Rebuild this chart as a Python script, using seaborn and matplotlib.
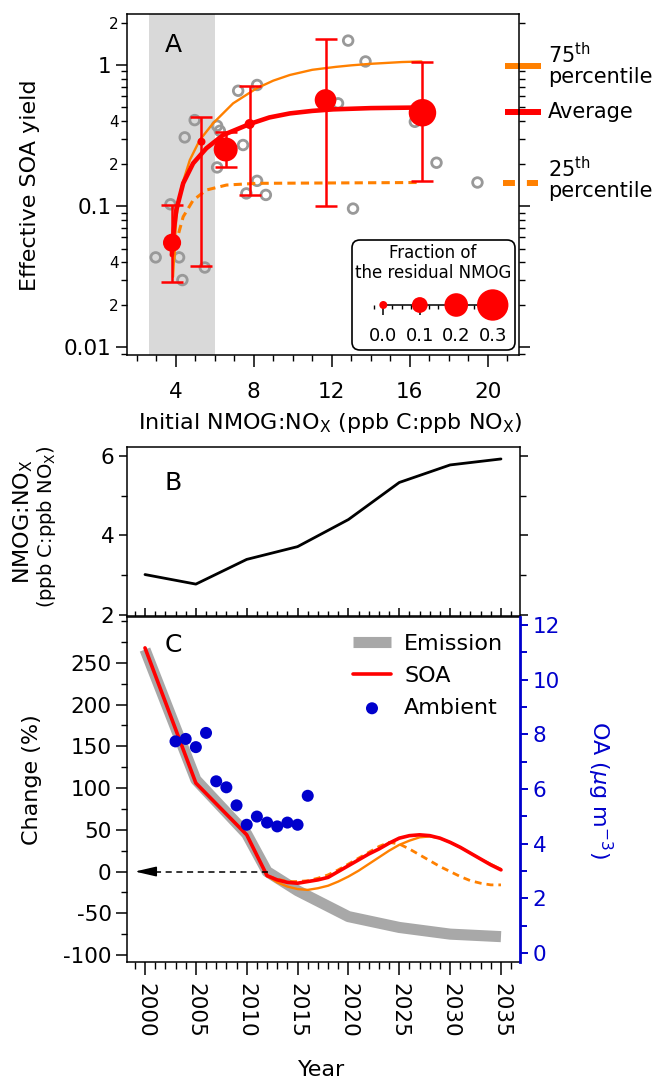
import matplotlib
matplotlib.use("Agg")
import numpy as np
import matplotlib.pyplot as plt
import seaborn as sns
from matplotlib.ticker import MultipleLocator, LogLocator, FuncFormatter, FixedLocator
from matplotlib.patches import FancyBboxPatch

# ---------------- Data ----------------
# Panel A: individual experiments (open grey circles)
exp_ratio = [7.20, 8.17, 12.84, 13.73, 4.97, 6.12, 6.26, 4.46, 7.45, 6.12, 8.17, 7.62,
             8.62, 3.73, 13.09, 17.37, 19.47, 12.32, 16.26, 2.97, 4.17, 4.34, 5.49]
exp_yield = [0.657, 0.722, 1.49, 1.06, 0.407, 0.371, 0.342, 0.307, 0.271, 0.188, 0.151, 0.123,
             0.120, 0.103, 0.096, 0.203, 0.147, 0.535, 0.396, 0.0433, 0.0433, 0.0299, 0.0367]

# Panel A: binned averages with 25th-75th ranges and residual NMOG fraction
avg_ratio = [3.81, 5.32, 6.56, 7.79, 11.68, 16.65]
avg_yield = [0.055, 0.286, 0.252, 0.382, 0.565, 0.459]
avg_low = [0.029, 0.0377, 0.190, 0.120, 0.100, 0.151]
avg_high = [0.102, 0.425, 0.336, 0.710, 1.53, 1.055]
avg_frac = [0.13, 0.0, 0.205, 0.026, 0.175, 0.25]

# Panel A: fitted curves
fit75_ratio = [3.86, 4.03, 4.29, 4.72, 5.23, 5.91, 6.94, 8.14, 9.0, 9.85, 11.0, 12.2, 13.0, 14.0, 15.6, 16.6]
fit75_yield = [0.0315, 0.084, 0.137, 0.212, 0.294, 0.386, 0.535, 0.683, 0.775, 0.85, 0.925, 0.97,
               0.995, 1.02, 1.05, 1.06]
fitavg_ratio = [3.80, 3.90, 4.03, 4.38, 4.89, 5.57, 6.43, 7.79, 8.8, 9.85, 11.0, 12.07, 14.0, 16.6]
fitavg_yield = [0.045, 0.068, 0.094, 0.145, 0.201, 0.257, 0.319, 0.382, 0.425, 0.454, 0.473,
                0.485, 0.495, 0.50]
fit25_ratio = [3.90, 3.95, 4.38, 4.89, 5.57, 6.60, 8.14, 16.6]
fit25_yield = [0.042, 0.051, 0.084, 0.110, 0.130, 0.141, 0.145, 0.147]

# Panel A: gray shaded range of ambient ratios
shade_range = [2.63, 6.02]
# size legend
legend_frac = [0.0, 0.1, 0.2, 0.3]
legend_frac_labels = ["0.0", "0.1", "0.2", "0.3"]

# Panel B
years_b = [2000, 2005, 2010, 2015, 2020, 2025, 2030, 2035]
ratio_b = [3.02, 2.78, 3.40, 3.72, 4.40, 5.33, 5.77, 5.92]

# Panel C
years_emis = [2000, 2005, 2010, 2012, 2015, 2020, 2025, 2030, 2035]
emission = [266, 110, 45, 0, -23, -54, -67, -75, -78]
years_soa = [2000, 2005, 2010, 2012, 2013, 2014, 2015, 2016, 2017, 2018, 2019, 2020, 2021,
             2022, 2023, 2024, 2025, 2026, 2027, 2028, 2029, 2030, 2031, 2032, 2033, 2034, 2035]
soa = [268, 106, 44, -5, -10, -13, -14, -12, -10, -7, 0, 7, 14,
       21, 27, 34, 40, 43, 44, 43, 40, 35, 29, 22, 15, 8, 2]
years_proj = [2012, 2013, 2014, 2015, 2016, 2017, 2018, 2019, 2020, 2021, 2022, 2023,
              2024, 2025, 2026, 2027, 2028, 2029, 2030, 2031, 2032, 2033, 2034, 2035]
soa_p75 = [-5, -13, -18, -21, -22, -20, -17, -12, -6, 1, 9, 17,
           25, 32, 37, 41, 42, 40, 35, 29, 22, 15, 9, 3]
soa_p25 = [-5, -9, -12, -12, -11, -8, -4, 2, 9, 16, 23, 30,
           35, 33, 27, 20, 13, 6, 0, -6, -11, -14, -16, -16]
amb_years = [2003, 2004, 2005, 2006, 2007, 2008, 2009, 2010, 2011, 2012, 2013, 2014, 2015, 2016]
amb_oa = [7.74, 7.83, 7.53, 8.05, 6.28, 6.06, 5.40, 4.69, 4.99, 4.77, 4.63, 4.77, 4.69, 5.75]
arrow_from_year = 2012.1
change_ticks = [-100, -50, 0, 50, 100, 150, 200, 250]

# ---------------- Style ----------------
sns.set_style("ticks")
plt.rcParams["font.family"] = ["DejaVu Sans"]
plt.rcParams["mathtext.fontset"] = "dejavusans"
plt.rcParams["axes.unicode_minus"] = False
plt.rcParams["axes.linewidth"] = 1.1
plt.rcParams["text.color"] = "black"
plt.rcParams["axes.labelcolor"] = "black"
plt.rcParams["axes.edgecolor"] = "black"
for a in ("xtick", "ytick"):
    plt.rcParams[a + ".major.width"] = 1.1
    plt.rcParams[a + ".minor.width"] = 1.0
    plt.rcParams[a + ".color"] = "black"
    plt.rcParams[a + ".labelcolor"] = "black"

RED = "#ff0000"
ORANGE = "#ff8000"
GREYC = "#999999"
BLUE = "#0000cc"
EMIS = "#a8a8a8"
TICK = 15.5
LAB = 16

W, H = 662, 1081
fig = plt.figure(figsize=(W / 100, H / 100), dpi=100)


def box(l, t, r, b):
    return [l / W, 1 - b / H, (r - l) / W, (b - t) / H]


def fx(x):
    return x / W


def fy(y):
    return 1 - y / H


def frac_to_s(f):
    r_px = 4 + 39 * np.asarray(f)
    return (2 * r_px * 0.72) ** 2


# ---------------- Panel A ----------------
axA = fig.add_axes(box(127, 14, 519, 355))
axA.set_yscale("log")
axA.axvspan(shade_range[0], shade_range[1], color="#d9d9d9", lw=0, zorder=0)
sns.scatterplot(x=exp_ratio, y=exp_yield, ax=axA, s=48, facecolor="none",
                edgecolor=GREYC, linewidth=2.0, zorder=2, legend=False)
sns.lineplot(x=fit25_ratio, y=fit25_yield, ax=axA, color=ORANGE, lw=2.2,
             linestyle=(0, (2.7, 1.7)), estimator=None, sort=False, zorder=3)
sns.lineplot(x=fit75_ratio, y=fit75_yield, ax=axA, color=ORANGE, lw=1.7,
             estimator=None, sort=False, zorder=3)
sns.lineplot(x=fitavg_ratio, y=fitavg_yield, ax=axA, color=RED, lw=3.3,
             estimator=None, sort=False, zorder=3)
yv = np.array(avg_yield)
yerr = [yv - np.array(avg_low), np.array(avg_high) - yv]
axA.errorbar(avg_ratio, avg_yield, yerr=yerr, fmt="none", ecolor=RED,
             elinewidth=1.8, capsize=8, capthick=1.8, zorder=4)
axA.scatter(avg_ratio, avg_yield, s=frac_to_s(avg_frac), color=RED, lw=0, zorder=5)

axA.set_xlim(1.5, 21.6)
axA.set_ylim(0.0088, 2.3)
axA.xaxis.set_major_locator(MultipleLocator(4))
axA.xaxis.set_minor_locator(MultipleLocator(1))
axA.yaxis.set_major_locator(FixedLocator([0.01, 0.1, 1]))
axA.yaxis.set_major_formatter(FuncFormatter(lambda v, p: {0.01: "0.01", 0.1: "0.1", 1: "1"}.get(round(v, 3), "")))
axA.yaxis.set_minor_locator(LogLocator(base=10, subs=np.arange(2, 10)))


def minor_fmt(v, pos):
    m = v / 10 ** np.floor(np.log10(v) + 1e-9)
    mi = int(round(m))
    return str(mi) if mi in (2, 4) else ""


axA.yaxis.set_minor_formatter(FuncFormatter(minor_fmt))
axA.tick_params(axis="x", which="major", direction="out", length=8.6, labelsize=TICK, pad=11, top=False)
axA.tick_params(axis="x", which="minor", direction="out", length=4.3, top=False)
axA.tick_params(axis="y", which="major", direction="out", length=8, labelsize=TICK, pad=3, right=True)
axA.tick_params(axis="y", which="minor", direction="out", length=4, labelsize=11, pad=2, right=True)
axA.set_xlabel("")
axA.set_ylabel("")
axA.text(0.117, 0.909, "A", transform=axA.transAxes, fontsize=18, ha="center", va="center")

# legend marks outside right edge
axA.plot([20.87, 22.75], [0.984, 0.984], color=ORANGE, lw=4.3, clip_on=False, solid_capstyle="butt")
axA.plot([20.87, 22.75], [0.466, 0.466], color=RED, lw=4.3, clip_on=False, solid_capstyle="butt")
axA.plot([20.78, 22.58], [0.146, 0.146], color=ORANGE, lw=4.3, clip_on=False,
         linestyle=(0, (2, 2)), dash_capstyle="butt")
fig.text(fx(548), fy(63), "75$^{\\mathrm{th}}$", fontsize=15, va="baseline", ha="left")
fig.text(fx(548), fy(83), "percentile", fontsize=15, va="baseline", ha="left")
fig.text(fx(548), fy(118), "Average", fontsize=15, va="baseline", ha="left")
fig.text(fx(548), fy(177), "25$^{\\mathrm{th}}$", fontsize=15, va="baseline", ha="left")
fig.text(fx(548), fy(197), "percentile", fontsize=15, va="baseline", ha="left")

fig.text(fx(30), fy(185), "Effective SOA yield", rotation=90, fontsize=LAB, ha="center", va="center")
fig.text(fx(330), fy(423), "Initial NMOG:NO$_\\mathrm{X}$ (ppb C:ppb NO$_\\mathrm{X}$)",
         fontsize=LAB, ha="center", va="center")

# size legend box
bx = FancyBboxPatch((fx(352), fy(350)), (515 - 352) / W, 110 / H,
                    boxstyle="round,pad=0,rounding_size=0.012", mutation_aspect=W / H,
                    transform=fig.transFigure, facecolor="white", edgecolor="black", lw=1.2, zorder=1)
fig.add_artist(bx)
fig.text(fx(433), fy(263), "Fraction of\nthe residual NMOG", fontsize=12, ha="center",
         va="center", linespacing=1.2, zorder=3)
insA = fig.add_axes(box(370, 290, 510, 320))
insA.set_zorder(2)
insA.patch.set_visible(False)
insA.scatter(legend_frac, np.zeros(len(legend_frac)), s=frac_to_s(legend_frac), color=RED,
             lw=0, zorder=3, clip_on=False)
insA.set_xlim(-0.0365, 0.3474)
insA.set_ylim(-1, 1)
for s in ("left", "right", "top"):
    insA.spines[s].set_visible(False)
insA.spines["bottom"].set_position(("data", 0))
insA.spines["bottom"].set_bounds(0, 0.3)
insA.xaxis.set_major_locator(FixedLocator(legend_frac))
insA.set_xticklabels(legend_frac_labels)
insA.xaxis.set_minor_locator(MultipleLocator(0.025))
insA.tick_params(axis="x", which="major", length=7, labelsize=13, pad=9, direction="out")
insA.tick_params(axis="x", which="minor", length=3, direction="out")
insA.set_yticks([])

# ---------------- Panel B ----------------
XL = (1998.23, 2036.87)
axB = fig.add_axes(box(127, 447, 520, 616))
sns.lineplot(x=years_b, y=ratio_b, ax=axB, color="black", lw=2.0, estimator=None, sort=False)
axB.set_xlim(*XL)
axB.set_ylim(1.98, 6.22)
axB.xaxis.set_major_locator(MultipleLocator(5))
axB.xaxis.set_minor_locator(MultipleLocator(1))
axB.yaxis.set_major_locator(FixedLocator([2, 4, 6]))
axB.yaxis.set_minor_locator(FixedLocator([3, 5]))
axB.tick_params(axis="x", which="major", direction="in", length=6, labelbottom=False, top=False)
axB.tick_params(axis="x", which="minor", direction="in", length=3.5, top=False)
axB.tick_params(axis="y", which="major", direction="out", length=6, labelsize=TICK, pad=3, right=True)
axB.tick_params(axis="y", which="minor", direction="out", length=4, right=True)
axB.set_xlabel("")
axB.set_ylabel("")
axB.text(0.117, 0.787, "B", transform=axB.transAxes, fontsize=18, ha="center", va="center")
fig.text(fx(23), fy(522), "NMOG:NO$_\\mathrm{X}$", rotation=90, fontsize=LAB, ha="center", va="center")
fig.text(fx(47), fy(527), "(ppb C:ppb NO$_\\mathrm{X}$)", rotation=90, fontsize=14, ha="center", va="center")

# ---------------- Panel C ----------------
axC = fig.add_axes(box(127, 617, 520, 962))
sns.lineplot(x=years_emis, y=emission, ax=axC, color=EMIS, lw=8, label="Emission",
             estimator=None, sort=False, solid_capstyle="butt")
sns.lineplot(x=years_proj, y=soa_p25, ax=axC, color=ORANGE, lw=2.0,
             linestyle=(0, (2.5, 1.8)), estimator=None, sort=False)
sns.lineplot(x=years_proj, y=soa_p75, ax=axC, color=ORANGE, lw=1.7, estimator=None, sort=False)
sns.lineplot(x=years_soa, y=soa, ax=axC, color=RED, lw=2.6, label="SOA", estimator=None, sort=False)
axC.plot([arrow_from_year, 1999.8], [0, 0], color="black", lw=1.1, linestyle=(0, (4, 3)))
axC.annotate("", xy=(1999.0, 0), xytext=(2000.8, 0),
             arrowprops=dict(arrowstyle="-|>,head_length=13,head_width=3", mutation_scale=1,
                             color="black", lw=1.1, shrinkA=0, shrinkB=0))
axC.set_xlim(*XL)
axC.set_ylim(-108.4, 305)
axC.xaxis.set_major_locator(MultipleLocator(5))
axC.xaxis.set_minor_locator(MultipleLocator(1))
axC.yaxis.set_major_locator(FixedLocator(change_ticks))
axC.yaxis.set_minor_locator(MultipleLocator(25))
axC.tick_params(axis="x", which="major", direction="out", length=9, labelsize=TICK, pad=6,
                top=False, labelrotation=270)
axC.tick_params(axis="x", which="minor", direction="out", length=5, top=False)
axC.tick_params(axis="y", which="major", direction="out", length=8, labelsize=TICK, pad=3, right=False)
axC.tick_params(axis="y", which="minor", direction="out", length=4, right=False)
axC.spines["right"].set_visible(False)
axC.set_xlabel("")
axC.set_ylabel("")
axC.text(0.117, 0.919, "C", transform=axC.transAxes, fontsize=18, ha="center", va="center")

ax2 = axC.twinx()
sns.scatterplot(x=amb_years, y=amb_oa, ax=ax2, color=BLUE, s=75, edgecolor="none",
                label="Ambient", zorder=5)
ax2.set_ylim(-0.33, 12.29)
ax2.yaxis.set_major_locator(MultipleLocator(2))
ax2.yaxis.set_minor_locator(MultipleLocator(1))
ax2.tick_params(axis="y", which="major", direction="out", length=6, labelsize=TICK, pad=3,
                colors=BLUE, width=1.4)
ax2.tick_params(axis="y", which="minor", direction="out", length=5, colors=BLUE, width=1.4)
for s in ("left", "top", "bottom"):
    ax2.spines[s].set_visible(False)
ax2.spines["right"].set_color(BLUE)
ax2.spines["right"].set_linewidth(2.0)
ax2.set_ylabel("")
ax2.set_xlabel("")

h1, l1 = axC.get_legend_handles_labels()
h2, l2 = ax2.get_legend_handles_labels()
if axC.get_legend() is not None:
    axC.get_legend().remove()
if ax2.get_legend() is not None:
    ax2.get_legend().remove()
ax2.legend(h1 + h2, l1 + l2, loc="upper right", frameon=False, fontsize=LAB,
           handlelength=1.7, handletextpad=0.6, labelspacing=0.55,
           borderaxespad=0.55, borderpad=0.2)

fig.text(fx(32), fy(780), "Change (%)", rotation=90, fontsize=LAB, ha="center", va="center")
fig.text(fx(600), fy(790), "OA ($\\mu$g m$^{-3}$)", rotation=270, fontsize=LAB,
         ha="center", va="center", color=BLUE)
fig.text(fx(322), fy(1070), "Year", fontsize=LAB, ha="center", va="center")

fig.savefig("out.png", dpi=100)
